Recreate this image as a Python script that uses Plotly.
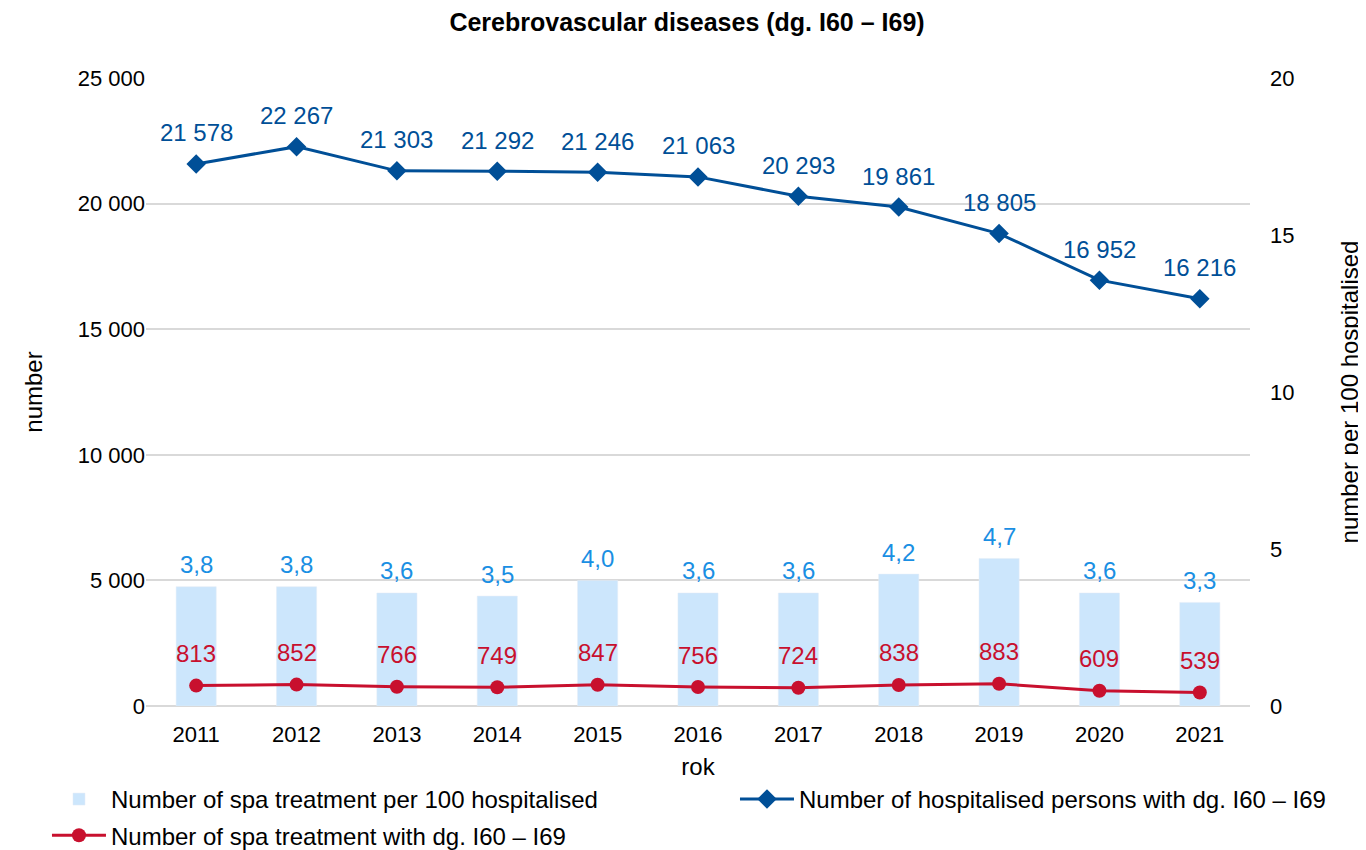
import plotly.graph_objects as go

years = ["2011", "2012", "2013", "2014", "2015", "2016", "2017", "2018", "2019", "2020", "2021"]
hospitalised = [21578, 22267, 21303, 21292, 21246, 21063, 20293, 19861, 18805, 16952, 16216]
spa = [813, 852, 766, 749, 847, 756, 724, 838, 883, 609, 539]
per100 = [3.8, 3.8, 3.6, 3.5, 4.0, 3.6, 3.6, 4.2, 4.7, 3.6, 3.3]

BAR_C = "#cce6fc"
BAR_T = "#1a8fe3"
BLUE = "#004f97"
RED = "#c8102e"
FONT = "Liberation Sans, Arial, sans-serif"
TK = 22   # tick labels
LS = 24   # data labels
AT = 24   # axis titles
LG = 24   # legend

def fmt_int(v):
    return f"{v:,}".replace(",", " ")

def fmt_dec(v):
    return f"{v:.1f}".replace(".", ",")

fig = go.Figure()
fig.add_trace(go.Bar(x=years, y=per100, yaxis="y", marker_color=BAR_C, width=0.4,
                     name="Number of spa treatment per 100 hospitalised",
                     legend="legend", legendgroup="a"))
fig.add_trace(go.Scatter(x=years, y=hospitalised, yaxis="y2", mode="lines+markers",
                         line=dict(color=BLUE, width=3),
                         marker=dict(symbol="diamond", size=15, color=BLUE),
                         name="Number of hospitalised persons with dg. I60 – I69",
                         legend="legend2"))
fig.add_trace(go.Scatter(x=years, y=spa, yaxis="y2", mode="lines+markers",
                         line=dict(color=RED, width=3),
                         marker=dict(symbol="circle", size=14, color=RED),
                         name="Number of spa treatment with dg. I60 – I69",
                         legend="legend", legendgroup="b"))

ann = []
for i, v in enumerate(hospitalised):
    ann.append(dict(x=i, y=v, xref="x", yref="y2", text=fmt_int(v), showarrow=False,
                    yshift=31, font=dict(size=LS, color=BLUE)))
for i, v in enumerate(spa):
    ann.append(dict(x=i, y=v, xref="x", yref="y2", text=fmt_int(v), showarrow=False,
                    yshift=32, font=dict(size=LS, color=RED)))
for i, v in enumerate(per100):
    ann.append(dict(x=i, y=v, xref="x", yref="y", text=fmt_dec(v), showarrow=False,
                    yshift=22, font=dict(size=LS, color=BAR_T)))

fig.update_layout(
    width=1358, height=842,
    margin=dict(l=138, r=116, t=70, b=144, autoexpand=False),
    paper_bgcolor="white", plot_bgcolor="white",
    font=dict(family=FONT, size=TK, color="#000000"),
    separators=", ",
    title=dict(text="<b>Cerebrovascular diseases (dg. I60 – I69)</b>", x=0.5, xanchor="center",
               y=0.983, yanchor="middle", font=dict(size=25)),
    xaxis=dict(type="category", range=[-0.5, 10.5], showgrid=False, ticks="",
               tickfont=dict(size=TK), ticklabelstandoff=13,
               title=dict(text="rok", standoff=12, font=dict(size=AT)), showline=False),
    yaxis2=dict(range=[0, 25000], dtick=5000, tickformat=",d", showgrid=True, side="left",
                overlaying="y", tickfont=dict(size=TK), ticks="",
                gridcolor="#d9d9d9", gridwidth=1.5, zeroline=True, zerolinecolor="#d9d9d9",
                zerolinewidth=1.5,
                title=dict(text="number", standoff=28, font=dict(size=AT))),
    yaxis=dict(range=[0, 20], dtick=5, side="right", showgrid=False, tickfont=dict(size=TK),
               zeroline=False, ticks="", ticklabelstandoff=19,
               title=dict(text="number per 100 hospitalised", standoff=47, font=dict(size=AT))),
    legend=dict(orientation="v", x=-0.0897, y=-0.113, xanchor="left", yanchor="top",
                traceorder="grouped", tracegroupgap=2, font=dict(size=LG), itemwidth=54,
                bgcolor="rgba(0,0,0,0)"),
    legend2=dict(orientation="v", x=0.5335, y=-0.113, xanchor="left", yanchor="top",
                 font=dict(size=LG), itemwidth=54, bgcolor="rgba(0,0,0,0)"),
    annotations=ann,
)

fig.write_html("out.html")
